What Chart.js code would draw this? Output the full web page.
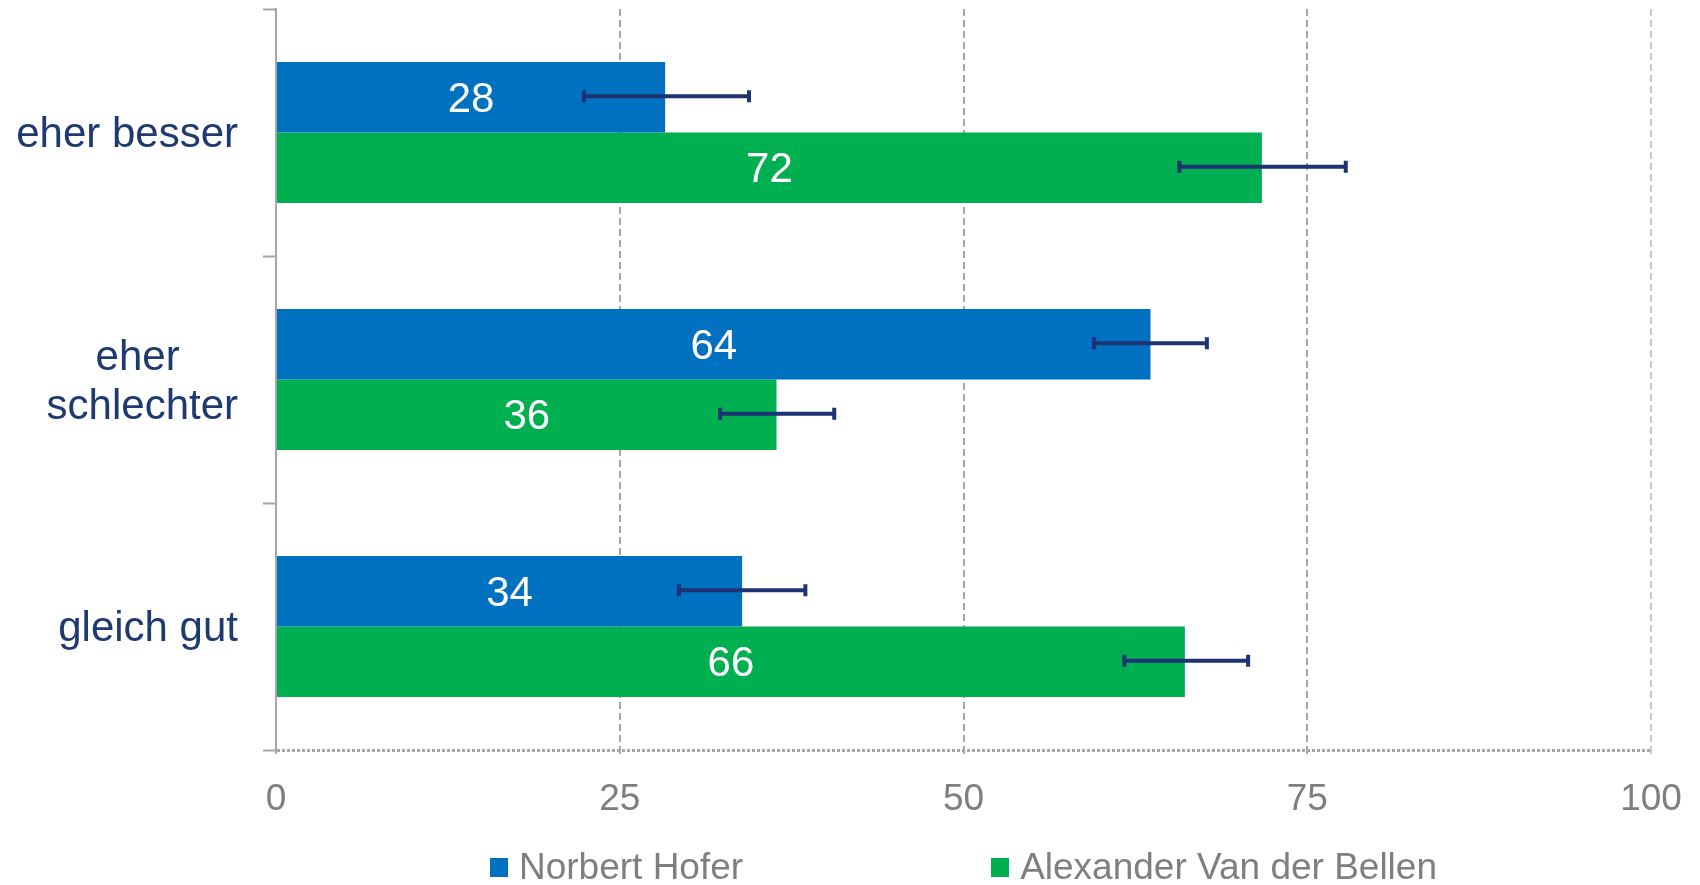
<!DOCTYPE html>
<html>
<head>
<meta charset="utf-8">
<title>Hofer / Van der Bellen</title>
<script src="https://cdn.jsdelivr.net/npm/chart.js@4/dist/chart.umd.min.js"></script>
<style>
    body { margin: 0; background: #fff; }
    #wrap { position: relative; width: 1700px; height: 885px; }
    #leyenda {
        position: absolute; left: 276px; width: 1375px; top: 846px;
        display: flex; justify-content: center; gap: 248px;
        font-family: "Liberation Sans", Arial, sans-serif; font-size: 37px; color: #7f7f7f;
    }
    .item { display: flex; align-items: center; }
    .caja { width: 18px; height: 19px; margin-right: 11px; }
</style>
</head>
<body>
<div id="wrap">
    <canvas id="myChart" width="1700" height="885"></canvas>
    <div id="leyenda"></div>
</div>
<script>
// Datos
var categorias = ["eher besser", "eher schlechter", "gleich gut"];
var nombres = ["Norbert Hofer", "Alexander Van der Bellen"];
var hofer = [28.3, 63.6, 33.9];
var vanDerBellen = [71.7, 36.4, 66.1];
// rangos de error (min, max)
var hoferMin = [22.4, 59.5, 29.3];
var hoferMax = [34.4, 67.7, 38.5];
var vdbMin = [65.7, 32.3, 61.7];
var vdbMax = [77.8, 40.6, 70.7];
var ticksX = [0, 25, 50, 75, 100];

var colores = ["#0070c0", "#00b050"];
var colorError = "#1f3272";
var gris = "#a6a6a6";
var fuente = "'Liberation Sans', Arial, sans-serif";

// para medir el texto de las categorias
var medidor = document.createElement("canvas").getContext("2d");
medidor.font = "42px " + fuente;

// "eher schlechter" va en dos lineas, centradas entre si
function partirEtiqueta(texto){
    if (texto != "eher schlechter") return texto;
    var lineas = ["eher", "schlechter"];
    var ancho = Math.max.apply(null, lineas.map(function(l){ return medidor.measureText(l).width; }));
    var espacio = medidor.measureText(" ").width;
    return lineas.map(function(l){
        var n = Math.round((ancho - medidor.measureText(l).width) / 2 / espacio);
        return l + " ".repeat(n);
    });
}

// barras de error dibujadas con las escalas del grafico
var pluginError = {
    id: "barrasError",
    afterDatasetsDraw: function(chart){
        var ctx = chart.ctx;
        var x = chart.scales.x;
        var rangos = [[hoferMin, hoferMax], [vdbMin, vdbMax]];
        ctx.save();
        ctx.strokeStyle = colorError;
        ctx.lineWidth = 4;
        rangos.forEach(function(r, d){
            chart.getDatasetMeta(d).data.forEach(function(bar, i){
                var y = bar.y - 1;
                var x1 = x.getPixelForValue(r[0][i]);
                var x2 = x.getPixelForValue(r[1][i]);
                ctx.beginPath();
                ctx.moveTo(x1, y); ctx.lineTo(x2, y);
                ctx.moveTo(x1, y - 6); ctx.lineTo(x1, y + 6);
                ctx.moveTo(x2, y - 6); ctx.lineTo(x2, y + 6);
                ctx.stroke();
            });
        });
        ctx.restore();
    }
};

// etiquetas blancas dentro de las barras
var pluginEtiquetas = {
    id: "etiquetas",
    afterDatasetsDraw: function(chart){
        var ctx = chart.ctx;
        ctx.save();
        ctx.fillStyle = "#ffffff";
        ctx.font = "42px " + fuente;
        ctx.textAlign = "center";
        ctx.textBaseline = "middle";
        chart.data.datasets.forEach(function(ds, d){
            chart.getDatasetMeta(d).data.forEach(function(bar, i){
                ctx.fillText(Math.round(ds.data[i]), (bar.x + bar.base) / 2, bar.y + 3);
            });
        });
        ctx.restore();
    }
};

var ctx = document.getElementById("myChart");
var myChart = new Chart(ctx, {
    type: "bar",
    data: {
        labels: categorias,
        datasets: [
            { label: nombres[0], data: hofer, backgroundColor: colores[0] },
            { label: nombres[1], data: vanDerBellen, backgroundColor: colores[1] }
        ]
    },
    options: {
        indexAxis: "y",
        responsive: false,
        animation: false,
        categoryPercentage: 0.57,
        barPercentage: 1.0,
        layout: { padding: { top: 9, right: 49, left: 0, bottom: 55 } },
        plugins: {
            legend: { display: false },
            tooltip: { enabled: false }
        },
        scales: {
            x: {
                min: 0, max: 100,
                afterBuildTicks: function(s){
                    s.ticks = ticksX.map(function(v){ return { value: v }; });
                },
                afterFit: function(s){
                    s.height = 80;
                    s.paddingLeft = 0; s.paddingRight = 0;
                },
                grid: {
                    color: function(c){ return c.tick && c.tick.value == 100 ? "#c9c9c9" : gris; },
                    lineWidth: 2,
                    tickLength: 6,
                    tickBorderDash: [4, 3]
                },
                // en v4 border.dash punta las lineas de la cuadricula
                border: { display: false, dash: [7, 4] },
                ticks: {
                    color: "#7f7f7f",
                    padding: 22,
                    font: { family: fuente, size: 37 }
                }
            },
            y: {
                afterFit: function(s){
                    s.width = 276;
                    s.paddingTop = 0; s.paddingBottom = 0;
                },
                grid: {
                    offset: true,
                    drawTicks: true,
                    tickLength: 13,
                    // solo la ultima linea (abajo, sin tick propio) cruza el area: eje x punteado
                    color: function(c){ return c.type == "scale" ? gris : "rgba(0,0,0,0)"; },
                    tickColor: gris,
                    lineWidth: 3,
                    tickWidth: 2
                },
                border: { display: true, color: gris, width: 2, dash: [3, 2] },
                ticks: {
                    color: "#1f3a70",
                    padding: 25,
                    labelOffset: 3,
                    font: { family: fuente, size: 42, lineHeight: 1.17 },
                    callback: function(v, i){ return partirEtiqueta(categorias[i]); }
                }
            }
        }
    },
    plugins: [pluginError, pluginEtiquetas]
});

// leyenda en html
var leyenda = document.getElementById("leyenda");
nombres.forEach(function(n, i){
    var item = document.createElement("div");
    item.className = "item";
    item.innerHTML = '<span class="caja" style="background:' + colores[i] + '"></span><span>' + n + '</span>';
    leyenda.appendChild(item);
});
</script>
</body>
</html>
